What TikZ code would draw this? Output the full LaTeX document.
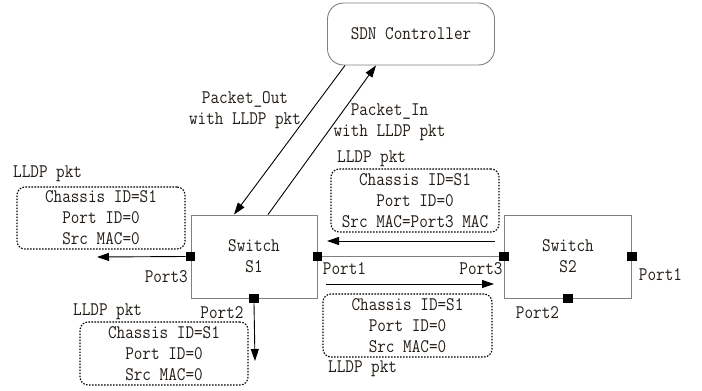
\documentclass[tikz,border=0pt]{standalone}
\usepackage{fontspec}
\setmonofont{Latin Modern Mono}[FakeStretch=0.87]
\usetikzlibrary{arrows.meta}
\definecolor{ink}{RGB}{35,28,22}
\definecolor{frame}{RGB}{128,128,128}
\tikzset{
  every node/.style={font=\ttfamily\fontsize{19.2}{21}\selectfont, text=ink, inner sep=0pt},
  switchbox/.style={draw=frame, line width=0.9pt, fill=white},
  ctrlbox/.style={draw=frame, line width=0.9pt, rounded corners=16pt},
  pktbox/.style={draw=black, line width=1.1pt, dash pattern=on 1.6pt off 1.4pt,
                 rounded corners=8pt, align=center, minimum width=168pt, minimum height=62pt},
  port/.style={fill=black, minimum size=9.5pt},
  arr/.style={draw=black, line width=0.9pt, -{Triangle[length=12pt,width=8pt]}},
  link/.style={draw=frame, line width=0.9pt}
}
\begin{document}
\begin{tikzpicture}[x=1pt,y=-1pt]
  \useasboundingbox (0,0) rectangle (702,391);

  % controller and switches
  \node[ctrlbox, minimum width=167pt, minimum height=62pt] (ctrl) at (411,34) {SDN Controller};
  \node[switchbox, minimum width=126pt, minimum height=83pt, align=center] (s1) at (254,256.5) {Switch\\S1};
  \node[switchbox, minimum width=127pt, minimum height=83pt, align=center] (s2) at (568,256.5) {Switch\\S2};

  % link between S1 Port1 and S2 Port3
  \draw[link] (s1.east) -- (s2.west);

  % ports
  \node[port] (p13) at (s1.west) {};
  \node[port] (p11) at (s1.east) {};
  \node[port] (p12) at (s1.south) {};
  \node[port] (p23) at (s2.west) {};
  \node[port] (p21) at (s2.east) {};
  \node[port] (p22) at (s2.south) {};

  % port labels
  \node[anchor=east] (l13) at (188,277) {Port3};
  \node (l12) at (222,313) {Port2};
  \node (l11) at (344.5,269) {Port1};
  \node (l23) at (481,269) {Port3};
  \node (l21) at (660.5,275) {Port1};
  \node (l22) at (537.5,313) {Port2};

  % controller messages
  \draw[arr] ([xshift=-66pt]ctrl.south) -- ([xshift=-20pt]s1.north);
  \draw[arr] ([xshift=14pt]s1.north) -- ([xshift=-35pt]ctrl.south);
  \node[align=center] (pout) at (245,110) {Packet\_Out\\with LLDP pkt};
  \node[align=center] (pin) at (389.5,122) {Packet\_In\\with LLDP pkt};

  % LLDP packets leaving S1
  \coordinate (e13) at (97,257);
  \coordinate (e12) at (255,361);
  \draw[arr] (p13.west) -- (e13);
  \draw[arr] (p12.south) -- (e12);

  \coordinate (a1) at (326,284);
  \coordinate (a2) at (494,284);
  \draw[arr] (a1) -- (a2);
  \coordinate (b1) at (495,241);
  \coordinate (b2) at (327,241);
  \draw[arr] (b1) -- (b2);

  % packet contents
  \node[pktbox] (k1) at (101,218) {Chassis ID=S1\\Port ID=0\\Src MAC=0};
  \node[anchor=west] (t1) at (13,174) {LLDP pkt};

  \node[pktbox, minimum height=63pt] (k2) at (164,353.5) {Chassis ID=S1\\Port ID=0\\Src MAC=0};
  \node[anchor=west] (t2) at (73,312) {LLDP pkt};

  \node[pktbox, minimum height=63pt] (k3) at (415,200.5) {Chassis ID=S1\\Port ID=0\\Src MAC=Port3 MAC};
  \node[anchor=west] (t3) at (337,159) {LLDP pkt};

  \node[pktbox, minimum width=169pt, minimum height=63pt] (k4) at (407.5,325.5) {Chassis ID=S1\\Port ID=0\\Src MAC=0};
  \node[anchor=west] (t4) at (328,369) {LLDP pkt};
\end{tikzpicture}
\end{document}
